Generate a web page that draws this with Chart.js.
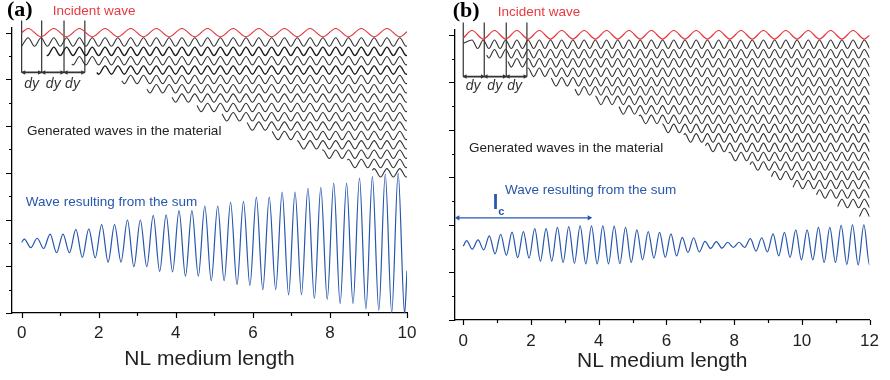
<!DOCTYPE html>
<html>
<head>
<meta charset="utf-8">
<script src="https://cdn.jsdelivr.net/npm/chart.js@4.4.1/dist/chart.umd.min.js"></script>
<style>
  html, body { margin: 0; padding: 0; background: #fff; }
  #wrap { position: relative; width: 890px; height: 380px; }
  #chartA { position: absolute; left: 0; top: 0; }
  #chartB { position: absolute; left: 440px; top: 0; }
</style>
</head>
<body>
<div id="wrap">
  <canvas id="chartA" width="440" height="380"></canvas>
  <canvas id="chartB" width="450" height="380"></canvas>
</div>
<script>
  // (a) phase matched: generated rows (start position, vertical level) and sum amplitude per cycle
  const rowStartA = [0, 0.65, 1.3, 1.95, 2.6, 3.25, 3.9, 4.55, 5.2, 5.85, 6.5, 7.15, 7.8, 8.45, 9.1];
  const rowLevelA = [5.8, 5.6, 5.4, 5.2, 5.0, 4.8, 4.6, 4.4, 4.2, 4.0, 3.8, 3.6, 3.4, 3.2, 3.0];
  const sumAmpA = [0.09, 0.11, 0.2, 0.2, 0.3, 0.31, 0.4, 0.4, 0.5, 0.5, 0.6, 0.61, 0.7, 0.7, 0.8,
    0.8, 0.88, 0.9, 0.99, 0.99, 1.1, 1.1, 1.18, 1.2, 1.29, 1.29, 1.4, 1.43, 1.48, 1.5];
  const dyLinesA = [0, 0.52, 1.1, 1.64];

  // (b) phase mismatched
  const rowStartB = [0, 0.69, 1.32, 1.9, 2.6, 3.3, 3.9, 4.6, 5.19, 5.88, 6.51, 7.15, 7.84, 8.47,
    9.1, 9.74, 10.43, 11.06, 11.7];
  const rowLevelB = [5.8, 5.6, 5.41, 5.21, 5.01, 4.82, 4.62, 4.42, 4.22, 4.03, 3.83, 3.63, 3.44,
    3.24, 3.04, 2.85, 2.65, 2.45, 2.26];
  const sumAmpB = [0.09, 0.105, 0.19, 0.22, 0.27, 0.28, 0.34, 0.34, 0.37, 0.385, 0.4, 0.4, 0.4,
    0.395, 0.37, 0.315, 0.28, 0.265, 0.23, 0.16, 0.15, 0.075, 0.07, 0.055, 0.055, 0.13, 0.15,
    0.23, 0.265, 0.315, 0.315, 0.37, 0.37, 0.41, 0.42, 0.42];
  const dyLinesB = [0, 0.62, 1.27, 1.88];
  const lcArrowB = [-0.16, 3.72];

  const RED = '#e63a40';
  const BLUE = '#2656ad';
  const INK = '#333';
  const FONT = '"Liberation Sans", Arial, sans-serif';

  // peaks and troughs of a wave, read as first peak + period; ends follow the same phase
  function wave(x0, x1, level, amp, firstPeak, period) {
    const half = period / 2;
    const ampOf = (n) => Array.isArray(amp) ? amp[Math.min(Math.floor(n / 2), amp.length - 1)] : amp;
    const edge = (x, a) => ({ x, y: level + a * Math.cos(2 * Math.PI * (x - firstPeak) / period) });
    let n = Math.max(0, Math.ceil((x0 - firstPeak) / half + 1e-6));
    const pts = [edge(x0, ampOf(n))];
    for (; ; n++) {
      const px = firstPeak + n * half;
      if (px >= x1 - 1e-6) break;
      pts.push({ x: px, y: n % 2 === 0 ? level + ampOf(n) : level - ampOf(n) });
    }
    pts.push(edge(x1, ampOf(n)));
    return pts;
  }

  function curve(data, color, width) {
    return {
      data, borderColor: color, borderWidth: width, pointRadius: 0,
      cubicInterpolationMode: 'monotone', fill: false,
    };
  }

  function marker(lines, yBottom, yTop) {
    const verts = [];
    lines.forEach((x) => { verts.push({ x, y: yBottom }, { x, y: yTop }, { x, y: null }); });
    const heads = [];
    const rot = [];
    for (let i = 0; i < lines.length - 1; i++) {
      heads.push({ x: lines[i] + 0.06, y: yBottom }, { x: lines[i + 1] - 0.06, y: yBottom });
      rot.push(-90, 90);
    }
    return [
      { data: verts, borderColor: INK, borderWidth: 1.2, pointRadius: 0, spanGaps: false, clip: false },
      { data: [{ x: lines[0], y: yBottom }, { x: lines[lines.length - 1], y: yBottom }],
        borderColor: INK, borderWidth: 1.6, pointRadius: 0, clip: false },
      { data: heads, showLine: false, pointStyle: 'triangle', pointRadius: 2.6,
        pointRotation: rot, pointBackgroundColor: INK, pointBorderWidth: 0, clip: false },
    ];
  }

  const notesPlugin = {
    id: 'notes',
    afterDatasetsDraw(chart, args, opts) {
      const { ctx } = chart;
      const { x, y } = chart.scales;
      ctx.save();
      ctx.textBaseline = 'middle';
      opts.items.forEach((n) => {
        ctx.font = n.font;
        ctx.fillStyle = n.color;
        ctx.textAlign = n.align || 'left';
        ctx.fillText(n.text, x.getPixelForValue(n.x), y.getPixelForValue(n.y));
      });
      ctx.restore();
    },
  };

  // major ticks from the scale, minor ticks halfway between
  const tickMarks = {
    id: 'tickMarks',
    afterDraw(chart) {
      const { ctx } = chart;
      const { x, y } = chart.scales;
      ctx.save();
      ctx.strokeStyle = '#000';
      ctx.lineWidth = 1.2;
      ctx.beginPath();
      const xs = x.ticks.map((t) => t.value);
      xs.forEach((v, i) => {
        const px = Math.round(x.getPixelForValue(v)) + 0.5;
        ctx.moveTo(px, y.bottom); ctx.lineTo(px, y.bottom + 5);
        if (i < xs.length - 1) {
          const pm = Math.round(x.getPixelForValue((v + xs[i + 1]) / 2)) + 0.5;
          ctx.moveTo(pm, y.bottom); ctx.lineTo(pm, y.bottom + 3);
        }
      });
      const ys = y.ticks.map((t) => t.value);
      ys.forEach((v, i) => {
        const py = Math.round(y.getPixelForValue(v)) + 0.5;
        ctx.moveTo(x.left, py); ctx.lineTo(x.left - 6, py);
        if (i < ys.length - 1) {
          const pm = Math.round(y.getPixelForValue((v + ys[i + 1]) / 2)) + 0.5;
          ctx.moveTo(x.left, pm); ctx.lineTo(x.left - 3, pm);
        }
      });
      ctx.stroke();
      ctx.restore();
    },
  };

  function makeChart(id, cfg) {
    const ctx = document.getElementById(id).getContext('2d');
    return new Chart(ctx, {
      type: 'line',
      data: { datasets: cfg.datasets },
      plugins: [notesPlugin, tickMarks],
      options: {
        responsive: false,
        animation: false,
        layout: { padding: cfg.padding },
        plugins: {
          legend: { display: false },
          tooltip: { enabled: false },
          notes: { items: cfg.notes },
        },
        scales: {
          x: {
            type: 'linear', min: cfg.xMin, max: cfg.xMax,
            grid: { display: false, drawTicks: false },
            border: { display: true, color: '#000', width: 1.3 },
            ticks: { stepSize: 2, includeBounds: false, padding: cfg.tickPad, color: '#222',
              font: { family: FONT, size: 17 } },
            title: { display: true, text: 'NL medium length', color: '#222',
              font: { family: FONT, size: 21 }, padding: { top: 0, bottom: cfg.titlePad } },
            afterFit: (s) => { s.height = cfg.xHeight; },
          },
          y: {
            min: 0, max: 6.1,
            grid: { display: false, drawTicks: false },
            border: { display: true, color: '#000', width: 1.3 },
            ticks: { display: false, stepSize: 1, includeBounds: false },
            afterFit: (s) => { s.width = 0; },
          },
        },
      },
    });
  }

  const txt = (size, style) => `${style || ''} ${size}px ${FONT}`;

  makeChart('chartA', {
    xMin: -0.25, xMax: 10, padding: { left: 12, right: 33, top: 28, bottom: 0 },
    xHeight: 67, tickPad: 10, titlePad: 8,
    datasets: [
      curve(wave(0, 10, 6.0, 0.09, 0.17, 0.665), RED, 1.2),
      ...rowStartA.map((s, k) => curve(wave(s, 10, rowLevelA[k], 0.09, 0.17, 0.3325),
        k === 1 || k === 3 ? '#1a1a1a' : INK, k === 1 || k === 3 ? 1.35 : 1.1)),
      curve(wave(0, 10, 1.49, sumAmpA, 0.07, 0.3345), BLUE, 1.2),
      ...marker(dyLinesA, 5.15, 6.26),
    ],
    notes: [
      { text: '(a)', x: -0.38, y: 6.47, font: `bold 22px "Liberation Serif", serif`, color: '#000' },
      { text: 'Incident wave', x: 0.81, y: 6.45, font: txt(13.5), color: RED },
      { text: 'Generated waves in the material', x: 0.14, y: 3.88, font: txt(13.5), color: '#222' },
      { text: 'Wave resulting from the sum', x: 0.11, y: 2.37, font: txt(13.5), color: BLUE },
      { text: 'dy', x: 0.26, y: 4.89, font: txt(14, 'italic'), color: INK, align: 'center' },
      { text: 'dy', x: 0.82, y: 4.89, font: txt(14, 'italic'), color: INK, align: 'center' },
      { text: 'dy', x: 1.32, y: 4.89, font: txt(14, 'italic'), color: INK, align: 'center' },
    ],
  });

  makeChart('chartB', {
    xMin: -0.244, xMax: 12, padding: { left: 15, right: 18, top: 30, bottom: 0 },
    xHeight: 60, tickPad: 11, titlePad: 6,
    datasets: [
      curve(wave(0, 12, 6.0, 0.09, 0.26, 0.662), RED, 1.2),
      ...rowStartB.map((s, k) => curve(wave(s, 12, rowLevelB[k], 0.09, 0.26, 0.331), INK, 1.1)),
      curve(wave(0, 12, 1.58, sumAmpB, 0.1, 0.3352), BLUE, 1.2),
      ...marker(dyLinesB, 5.12, 6.26),
      { data: lcArrowB.map((x) => ({ x, y: 2.15 })), borderColor: BLUE, borderWidth: 1.3,
        pointRadius: 3, pointStyle: 'triangle', pointRotation: [-90, 90],
        pointBackgroundColor: BLUE, pointBorderWidth: 0, clip: false },
    ],
    notes: [
      { text: '(b)', x: -0.31, y: 6.5, font: `bold 22px "Liberation Serif", serif`, color: '#000' },
      { text: 'Incident wave', x: 1.02, y: 6.47, font: txt(13.5), color: RED },
      { text: 'Generated waves in the material', x: 0.17, y: 3.62, font: txt(13.5), color: '#222' },
      { text: 'Wave resulting from the sum', x: 1.23, y: 2.72, font: txt(13.5), color: BLUE },
      { text: 'l', x: 0.87, y: 2.45, font: txt(20, 'bold'), color: BLUE },
      { text: 'c', x: 1.03, y: 2.28, font: txt(11, 'bold'), color: BLUE },
      { text: 'dy', x: 0.29, y: 4.91, font: txt(14, 'italic'), color: INK, align: 'center' },
      { text: 'dy', x: 0.93, y: 4.91, font: txt(14, 'italic'), color: INK, align: 'center' },
      { text: 'dy', x: 1.52, y: 4.91, font: txt(14, 'italic'), color: INK, align: 'center' },
    ],
  });
</script>
</body>
</html>
